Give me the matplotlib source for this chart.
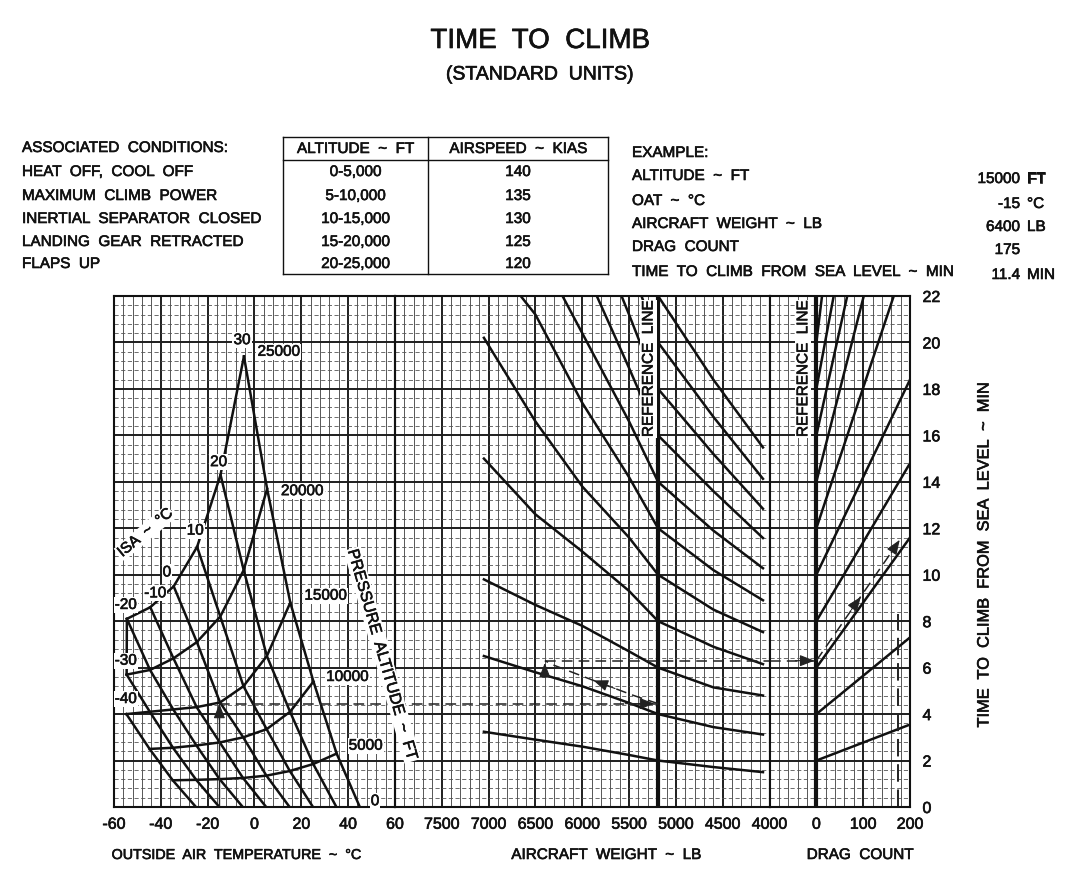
import numpy as np
import matplotlib
matplotlib.use("Agg")
import matplotlib.pyplot as plt
import matplotlib.patheffects as pe
from matplotlib.lines import Line2D

plt.rcParams['font.family'] = ['Liberation Sans', 'DejaVu Sans']
plt.rcParams['axes.unicode_minus'] = False

# ---------------- left chart: OAT / ISA deviation / pressure altitude ----------------
ISA_DEV = [-40, -30, -20, -10, 0, 10, 20, 30]
PRESS_ALT = [0, 5000, 10000, 15000, 20000, 25000]
# one row per pressure altitude, one column per ISA deviation (None = off the chart)
OAT_NODES = [
    [-25.0, -15.0, -5.0, 5.0, 15.0, 25.0, 35.0, 45.0],
    [-34.9, -24.9, -14.9, -4.9, 5.1, 15.1, 25.1, 35.1],
    [-44.8, -34.8, -24.8, -14.8, -4.8, 5.2, 15.2, 25.2],
    [-54.7, -44.7, -34.7, -24.7, -14.7, -4.7, 5.3, 15.3],
    [None, -54.6, -44.6, -34.6, -24.6, -14.6, -4.6, 5.4],
    [None, None, -54.5, -44.5, -34.5, -24.5, -14.5, -4.5],
]
TIME_NODES = [
    [0, 0, 0, 0, 0, 0, 0, 0],
    [1.15, 1.17, 1.2, 1.25, 1.35, 1.55, 1.85, 2.3],
    [2.5, 2.55, 2.65, 2.78, 3.0, 3.35, 4.1, 5.4],
    [4.0, 4.1, 4.2, 4.3, 4.5, 5.2, 6.5, 8.8],
    [None, 5.7, 5.9, 6.4, 7.1, 8.2, 10.2, 13.7],
    [None, None, 8.1, 8.6, 9.5, 11.2, 14.3, 19.4],
]

# ---------------- middle chart: aircraft weight ----------------
REF_WEIGHT = 5190
WEIGHT_PTS = [7050, 6500, 6000, 5500, 5190, 4600, 4070]
WEIGHT_LINES = [
    [3.24, 2.9, 2.6, 2.24, 2.0, 1.72, 1.5],
    [6.5, 5.8, 5.2, 4.48, 4.0, 3.44, 3.12],
    [9.8, 8.7, 7.8, 6.7, 6.0, 5.15, 4.8],
    [15.0, 12.6, 11.0, 9.3, 8.0, 6.9, 6.15],
    [20.2, 16.6, 13.8, 11.6, 10.0, 8.5, 7.53],
    [24.0, 21.2, 17.4, 14.2, 12.0, 10.2, 8.9],
    [28.0, 24.2, 20.4, 16.6, 14.0, 11.9, 10.28],
    [32.0, 27.6, 23.4, 18.9, 16.0, 13.6, 11.58],
    [36.0, 31.0, 26.2, 21.2, 18.0, 15.2, 12.84],
    [40.0, 34.5, 29.0, 23.5, 20.0, 16.8, 14.13],
    [44.0, 38.0, 32.0, 25.8, 22.0, 18.4, 15.48],
]

# ---------------- right chart: drag count ----------------
DRAG_PTS = [0, 200]
DRAG_LINES = [
    [2, 3.55], [4, 7.3], [6, 11.6], [8, 14.8], [10, 18.4],
    [12, 24.1], [14, 29.8], [16, 34.2], [18, 39.6], [20, 53.0],
]

# ---------------- worked example ----------------
EX_OAT = -15
EX_WEIGHT = 6400
EX_DRAG = 175
EX_T_REF = 4.45
EX_T_WT = 6.3
EX_T_FINAL = 11.4
EX_PATH_W = [5190, 5450, 5880, 6300, 6400]
EX_PATH_T = [4.45, 4.8, 5.45, 6.1, 6.3]

# ---------------- header text ----------------
CONDITIONS = ['HEAT  OFF,  COOL  OFF', 'MAXIMUM  CLIMB  POWER', 'INERTIAL  SEPARATOR  CLOSED',
              'LANDING  GEAR  RETRACTED', 'FLAPS  UP']
ALT_BANDS = ['0-5,000', '5-10,000', '10-15,000', '15-20,000', '20-25,000']
AIRSPEEDS = ['140', '135', '130', '125', '120']
EXAMPLE_ITEMS = ['ALTITUDE  ~  FT', 'OAT  ~  \u00b0C', 'AIRCRAFT  WEIGHT  ~  LB', 'DRAG  COUNT',
                 'TIME  TO  CLIMB  FROM  SEA  LEVEL  ~  MIN']
EXAMPLE_VALUES = ['15000', '-15', '6400', '175', '11.4']
EXAMPLE_UNITS = ['FT', '\u00b0C', 'LB', '', 'MIN']

W, H = 1084, 870
INK = '#111111'
DASH = (0, (7, 4))
BOLDEN = [pe.withStroke(linewidth=0.45, foreground=INK)]
TXT = dict(color=INK, path_effects=BOLDEN)


def fx(px):
    return px / W


def fy(py):
    return 1 - py / H


def head(ax, x0, y0, x1, y1):
    ax.annotate('', xy=(x1, y1), xytext=(x0, y0),
                arrowprops=dict(arrowstyle='-|>,head_length=0.9,head_width=0.35',
                                color='#222222', lw=0.8, shrinkA=0, shrinkB=0,
                                mutation_scale=10))


def label(ax, x, y, s, size=11, **kw):
    ax.text(x, y, s, ha='center', va='center', fontsize=size,
            bbox=dict(facecolor='white', edgecolor='none', pad=0.8), zorder=5, **TXT, **kw)


fig = plt.figure(figsize=(10.84, 8.7), dpi=100, facecolor='white')

cell = (910 - 114) / 17
ax1 = fig.add_axes([fx(114), fy(808), 6 * cell / W, 511 / H])
ax2 = fig.add_axes([fx(114 + 6 * cell), fy(808), 8 * cell / W, 511 / H])
ax3 = fig.add_axes([fx(114 + 14 * cell), fy(808), 3 * cell / W, 511 / H])
# left chart drawn last so its slanted label may spill over the weight grid
ax1.set_zorder(3)
ax1.patch.set_visible(False)

ax1.set_xlim(-60, 60)
ax1.set_xticks(np.arange(-60, 61, 20))
ax1.set_xticks(np.arange(-60, 61, 4), minor=True)

ax2.set_xlim(8000, 4000)
ax2.set_xticks(np.arange(8000, 3999, -500))
ax2.set_xticks(np.arange(4000, 8001, 100), minor=True)
ax2.set_xticklabels([''] + [str(v) for v in range(7500, 3999, -500)])

ax3.set_xlim(-100, 200)
ax3.set_xticks([-100, 0, 100, 200])
ax3.set_xticks(np.arange(-100, 201, 20), minor=True)
ax3.set_xticklabels(['', '0', '100', '200'])

for ax in (ax1, ax2, ax3):
    ax.set_ylim(0, 22)
    ax.set_yticks(np.arange(0, 23, 2))
    ax.set_yticks(np.arange(0, 22.01, 0.4), minor=True)
    ax.grid(which='major', color='#1e1e1e', lw=1.4)
    ax.grid(which='minor', axis='x', color='#3c3c3c', lw=0.6)
    ax.grid(which='minor', axis='y', color='#555555', lw=0.6, ls=(0, (5, 3)))
    ax.set_axisbelow(True)
    ax.tick_params(which='both', length=0, labelsize=11.5, pad=7,
                   labelleft=False, labelcolor=INK)
    for sp in ax.spines.values():
        sp.set_linewidth(1.5)
        sp.set_color(INK)

ax3.tick_params(axis='y', labelright=True, pad=9)
for ax in (ax1, ax2, ax3):
    for lbl in ax.get_xticklabels() + ax.get_yticklabels():
        lbl.set_path_effects(BOLDEN)

# ---- left chart curves ----
for j in range(len(ISA_DEV)):
    xs = [OAT_NODES[i][j] for i in range(len(PRESS_ALT)) if OAT_NODES[i][j] is not None]
    ys = [TIME_NODES[i][j] for i in range(len(PRESS_ALT)) if TIME_NODES[i][j] is not None]
    ax1.plot(xs, ys, color=INK, lw=1.8)
for i in range(1, len(PRESS_ALT)):
    xs = [v for v in OAT_NODES[i] if v is not None]
    ys = [v for v in TIME_NODES[i] if v is not None]
    ax1.plot(xs, ys, color=INK, lw=1.8)
ax1.plot([OAT_NODES[5][2], OAT_NODES[4][1]], [TIME_NODES[5][2], TIME_NODES[4][1]],
         color=INK, lw=1.8)

label(ax1, -5.3, 20.1, '30')
label(ax1, 10.4, 19.6, '25000')
label(ax1, -15.3, 14.85, '20')
label(ax1, 20.4, 13.6, '20000')
label(ax1, -25.3, 11.9, '10')
label(ax1, -37.4, 10.1, '0')
label(ax1, -42.4, 9.2, '-10')
label(ax1, -55.0, 8.7, '-20')
label(ax1, -55.0, 6.3, '-30')
label(ax1, -55.0, 4.65, '-40')
label(ax1, 30.4, 9.1, '15000')
label(ax1, 39.7, 5.6, '10000')
label(ax1, 47.5, 2.64, '5000')
label(ax1, 51.5, 0.25, '0')
label(ax1, -46.7, 11.8, 'ISA  ~  \u00b0C', rotation=40, rotation_mode='anchor')
label(ax1, 54.6, 6.55, 'PRESSURE  ALTITUDE  ~  FT', size=11.5, rotation=-74,
      rotation_mode='anchor')

# ---- middle chart ----
for line in WEIGHT_LINES:
    ax2.plot(WEIGHT_PTS, line, color=INK, lw=1.8)
ax2.axvline(REF_WEIGHT, color=INK, lw=3)
label(ax2, 5292, 18.86, 'REFERENCE  LINE', rotation=90)

# ---- right chart ----
for line in DRAG_LINES:
    ax3.plot(DRAG_PTS, line, color=INK, lw=1.8)
ax3.axvline(0, color=INK, lw=3)
label(ax3, -28, 18.86, 'REFERENCE  LINE', rotation=90)

# ---- example path ----
ax1.plot([EX_OAT, EX_OAT], [0, EX_T_REF], color='#222222', lw=1.0)
head(ax1, EX_OAT, EX_T_REF - 0.7, EX_OAT, EX_T_REF)
ax1.plot([EX_OAT, 60], [EX_T_REF, EX_T_REF], color='#222222', lw=1.1, ls=DASH)
ax2.plot([8000, REF_WEIGHT], [EX_T_REF, EX_T_REF], color='#222222', lw=1.1, ls=DASH)
head(ax2, REF_WEIGHT + 350, EX_T_REF, REF_WEIGHT + 40, EX_T_REF)
ax2.plot(EX_PATH_W, EX_PATH_T, color='#222222', lw=1.1, ls=DASH)
head(ax2, 5650, 5.1, 5880, 5.45)
head(ax2, EX_WEIGHT, EX_T_WT - 0.7, EX_WEIGHT, EX_T_WT - 0.1)
ax2.plot([EX_WEIGHT, 4000], [EX_T_WT, EX_T_WT], color='#222222', lw=1.1, ls=DASH)
ax3.plot([-100, 0], [EX_T_WT, EX_T_WT], color='#222222', lw=1.1, ls=DASH)
head(ax3, -45, EX_T_WT, -4, EX_T_WT)
ax3.plot([0, EX_DRAG], [EX_T_WT, EX_T_FINAL], color='#222222', lw=1.1, ls=DASH)
head(ax3, 75, 8.5, 95, 9.05)
head(ax3, 160, 10.95, 178, 11.5)
ax3.plot([EX_DRAG, EX_DRAG], [0, 8.3], color='#222222', lw=1.4, ls=(0, (9, 4)))

# ---- axis titles ----
fig.text(fx(236), fy(856), 'OUTSIDE  AIR  TEMPERATURE  ~  \u00b0C', ha='center', va='center',
         fontsize=10.3, **TXT)
fig.text(fx(606), fy(856), 'AIRCRAFT  WEIGHT  ~  LB', ha='center', va='center',
         fontsize=11, **TXT)
fig.text(fx(860), fy(856), 'DRAG  COUNT', ha='center', va='center', fontsize=11, **TXT)
fig.text(fx(984), fy(556), 'TIME  TO  CLIMB  FROM  SEA  LEVEL  ~  MIN', rotation=90,
         ha='center', va='center', fontsize=11.8, **TXT)

# ---- title block ----
fig.text(fx(540), fy(42), 'TIME  TO  CLIMB', ha='center', va='center', fontsize=20, **TXT)
fig.text(fx(540), fy(76), '(STANDARD  UNITS)', ha='center', va='center', fontsize=14, **TXT)

row_y = [173, 197, 220, 243, 265]
fig.text(fx(22), fy(149), 'ASSOCIATED  CONDITIONS:', ha='left', va='center', fontsize=11, **TXT)
for y, s in zip(row_y, CONDITIONS):
    fig.text(fx(22), fy(y), s, ha='left', va='center', fontsize=11, **TXT)

# table
tl, tr, tt, tb, tsep, tdiv = 283, 608, 138, 275, 161, 428
for xa, ya, xb, yb in [(tl, tt, tr, tt), (tl, tb, tr, tb), (tl, tt, tl, tb), (tr, tt, tr, tb),
                       (tl, tsep, tr, tsep), (tdiv, tt, tdiv, tb)]:
    fig.add_artist(Line2D([fx(xa), fx(xb)], [fy(ya), fy(yb)], transform=fig.transFigure,
                          color=INK, lw=1.0))
fig.text(fx((tl + tdiv) / 2), fy(150), 'ALTITUDE  ~  FT', ha='center', va='center',
         fontsize=11, **TXT)
fig.text(fx((tdiv + tr) / 2), fy(150), 'AIRSPEED  ~  KIAS', ha='center', va='center',
         fontsize=11, **TXT)
for y, a, v in zip(row_y, ALT_BANDS, AIRSPEEDS):
    fig.text(fx((tl + tdiv) / 2), fy(y), a, ha='center', va='center', fontsize=11, **TXT)
    fig.text(fx((tdiv + tr) / 2), fy(y), v, ha='center', va='center', fontsize=11, **TXT)

# example block
ex_y = [177, 202, 225, 248, 273]
fig.text(fx(632), fy(154), 'EXAMPLE:', ha='left', va='center', fontsize=11, **TXT)
for y, s, v, u in zip(ex_y, EXAMPLE_ITEMS, EXAMPLE_VALUES, EXAMPLE_UNITS):
    fig.text(fx(632), fy(y), s, ha='left', va='center', fontsize=11, **TXT)
    fig.text(fx(1020), fy(y + 3), v, ha='right', va='center', fontsize=11, **TXT)
    fig.text(fx(1027), fy(y + 3), u, ha='left', va='center', fontsize=11, **TXT)

fig.savefig('out.png', dpi=100, facecolor='white')
